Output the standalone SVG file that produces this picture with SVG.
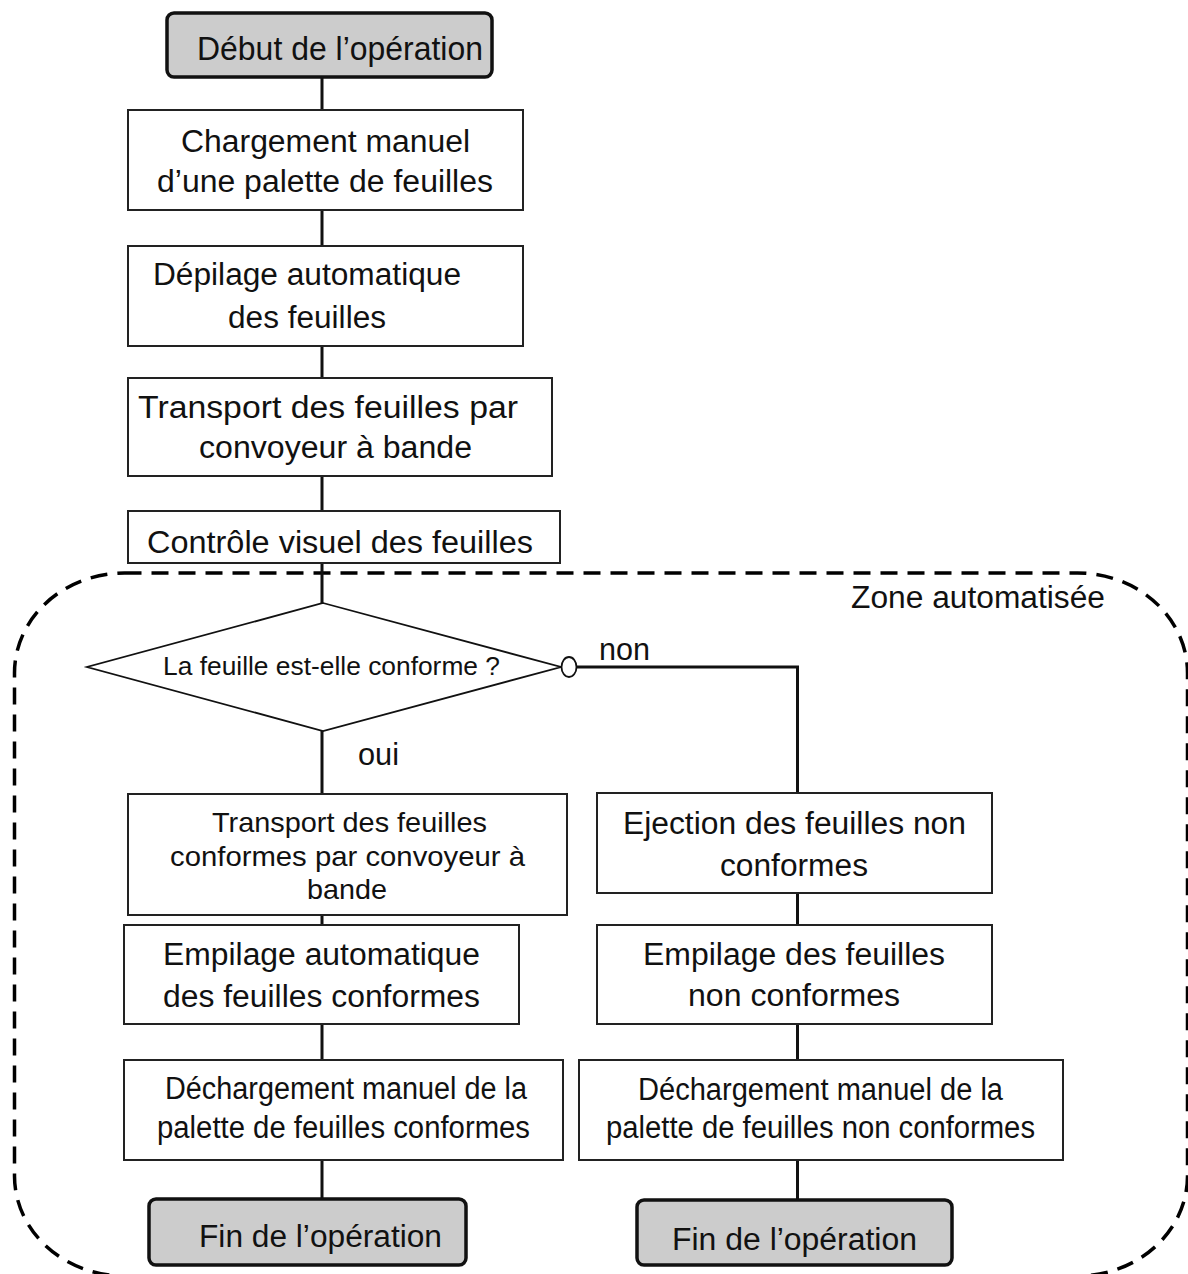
<svg xmlns="http://www.w3.org/2000/svg" width="1188" height="1274" viewBox="0 0 1188 1274">
<style>
text{font-family:"Liberation Sans",Arial,sans-serif;fill:#111;}
.t{font-size:31px;}
.s{font-size:28px;}
.box{fill:#fff;stroke:#222;stroke-width:2;}
.term{fill:#cccccc;stroke:#111;stroke-width:3.5;}
.c{fill:none;stroke:#111;stroke-width:3;}
.zone{fill:none;stroke:#000;stroke-width:3.5;stroke-dasharray:17 10;}
</style>
<rect width="1188" height="1274" fill="#fff"/>
<g id="zone">
<rect class="zone" x="14.5" y="573" width="1173" height="703" rx="110" ry="100"/>
<text class="t" x="851" y="608" textLength="254" lengthAdjust="spacingAndGlyphs">Zone automatisée</text>
</g>
<g id="connectors">
<path class="c" d="M322,77V110M322,210V246M322,346V378M322,476V511M322,563V603M322,731V794M322,915V925M322,1024V1060M322,1160V1199"/>
<path class="c" d="M577,667H797.5V793M797.5,893V925M797.5,1024V1060M797.5,1160V1200"/>
<text class="t" x="599" y="660" textLength="51" lengthAdjust="spacingAndGlyphs">non</text>
<text class="t" x="358" y="765" textLength="41" lengthAdjust="spacingAndGlyphs">oui</text>
</g>
<g id="start">
<rect class="term" x="167" y="13" width="325" height="64" rx="7"/>
<text x="197" y="60" style="font-size:33px" textLength="286" lengthAdjust="spacingAndGlyphs">Début de l’opération</text>
</g>
<g id="chargement">
<rect class="box" x="128" y="110" width="395" height="100"/>
<text class="t" x="181" y="152" textLength="289" lengthAdjust="spacingAndGlyphs">Chargement manuel</text>
<text class="t" x="157" y="192" textLength="336" lengthAdjust="spacingAndGlyphs">d’une palette de feuilles</text>
</g>
<g id="depilage">
<rect class="box" x="128" y="246" width="395" height="100"/>
<text class="t" x="153" y="285" textLength="308" lengthAdjust="spacingAndGlyphs">Dépilage automatique</text>
<text class="t" x="228" y="328" textLength="158" lengthAdjust="spacingAndGlyphs">des feuilles</text>
</g>
<g id="transport">
<rect class="box" x="128" y="378" width="424" height="98"/>
<text class="t" x="138" y="418" textLength="380" lengthAdjust="spacingAndGlyphs">Transport des feuilles par</text>
<text class="t" x="199" y="458" textLength="273" lengthAdjust="spacingAndGlyphs">convoyeur à bande</text>
</g>
<g id="controle">
<rect class="box" x="128" y="511" width="432" height="52"/>
<text class="t" x="147" y="553" textLength="386" lengthAdjust="spacingAndGlyphs">Contrôle visuel des feuilles</text>
</g>
<g id="decision">
<polygon points="323,603 561,667 323,731 87,667" fill="#fff" stroke="#111" stroke-width="1.8"/>
<text x="163" y="675" style="font-size:26px" textLength="337" lengthAdjust="spacingAndGlyphs">La feuille est-elle conforme ?</text>
<ellipse cx="569" cy="667" rx="7.5" ry="10" fill="#fff" stroke="#111" stroke-width="1.8"/>
</g>
<g id="transport-conformes">
<rect class="box" x="128" y="794" width="439" height="121"/>
<text class="s" x="212" y="832" textLength="275" lengthAdjust="spacingAndGlyphs">Transport des feuilles</text>
<text class="s" x="170" y="866" textLength="355" lengthAdjust="spacingAndGlyphs">conformes par convoyeur à</text>
<text class="s" x="307" y="899" textLength="80" lengthAdjust="spacingAndGlyphs">bande</text>
</g>
<g id="empilage-conformes">
<rect class="box" x="124" y="925" width="395" height="99"/>
<text class="t" x="163" y="965" textLength="317" lengthAdjust="spacingAndGlyphs">Empilage automatique</text>
<text class="t" x="163" y="1007" textLength="317" lengthAdjust="spacingAndGlyphs">des feuilles conformes</text>
</g>
<g id="dechargement-conformes">
<rect class="box" x="124" y="1060" width="439" height="100"/>
<text class="t" x="165" y="1099" textLength="362" lengthAdjust="spacingAndGlyphs">Déchargement manuel de la</text>
<text class="t" x="157" y="1138" textLength="373" lengthAdjust="spacingAndGlyphs">palette de feuilles conformes</text>
</g>
<g id="fin-conformes">
<rect class="term" x="149" y="1199" width="317" height="66" rx="7"/>
<text class="t" x="199" y="1247" textLength="243" lengthAdjust="spacingAndGlyphs">Fin de l’opération</text>
</g>
<g id="ejection">
<rect class="box" x="597" y="793" width="395" height="100"/>
<text class="t" x="623" y="834" textLength="343" lengthAdjust="spacingAndGlyphs">Ejection des feuilles non</text>
<text class="t" x="720" y="876" textLength="148" lengthAdjust="spacingAndGlyphs">conformes</text>
</g>
<g id="empilage-non-conformes">
<rect class="box" x="597" y="925" width="395" height="99"/>
<text class="t" x="643" y="965" textLength="302" lengthAdjust="spacingAndGlyphs">Empilage des feuilles</text>
<text class="t" x="688" y="1006" textLength="212" lengthAdjust="spacingAndGlyphs">non conformes</text>
</g>
<g id="dechargement-non-conformes">
<rect class="box" x="579" y="1060" width="484" height="100"/>
<text class="t" x="638" y="1100" textLength="365" lengthAdjust="spacingAndGlyphs">Déchargement manuel de la</text>
<text class="t" x="606" y="1138" textLength="429" lengthAdjust="spacingAndGlyphs">palette de feuilles non conformes</text>
</g>
<g id="fin-non-conformes">
<rect class="term" x="637" y="1200" width="315" height="65" rx="7"/>
<text class="t" x="672" y="1250" textLength="245" lengthAdjust="spacingAndGlyphs">Fin de l’opération</text>
</g>
</svg>
